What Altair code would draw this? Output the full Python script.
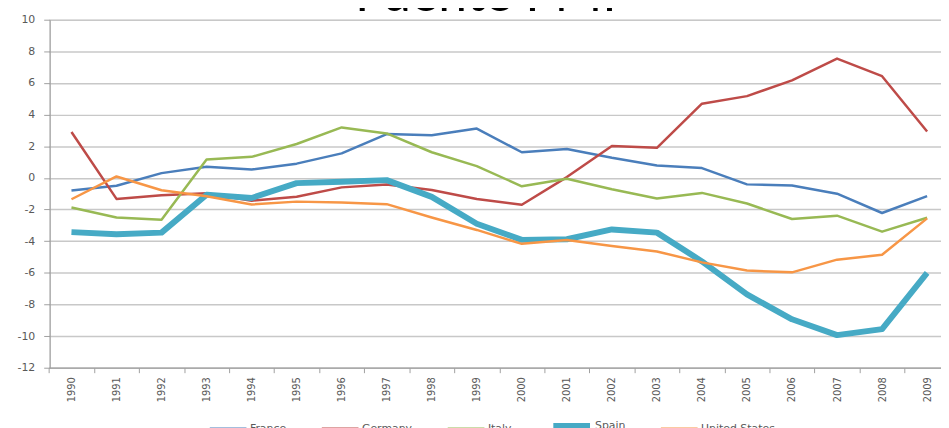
import altair as alt
import pandas as pd

years = [str(y) for y in range(1990, 2010)]
countries = ["France", "Germany", "Italy", "Spain", "United States"]

france = [-0.8, -0.5, 0.3, 0.7, 0.53, 0.9, 1.55, 2.77, 2.7, 3.12, 1.62, 1.83, 1.27, 0.78, 0.62, -0.41, -0.48, -1.0, -2.22, -1.15]
germany = [2.9, -1.33, -1.1, -0.97, -1.44, -1.19, -0.6, -0.42, -0.76, -1.33, -1.7, 0.05, 2.02, 1.9, 4.69, 5.17, 6.16, 7.54, 6.43, 2.93]
italy = [-1.87, -2.5, -2.65, 1.16, 1.33, 2.14, 3.19, 2.81, 1.62, 0.74, -0.53, -0.05, -0.72, -1.3, -0.95, -1.62, -2.6, -2.39, -3.4, -2.52]
spain = [-3.43, -3.56, -3.46, -1.06, -1.27, -0.33, -0.24, -0.14, -1.2, -2.9, -3.92, -3.88, -3.26, -3.46, -5.28, -7.37, -8.94, -9.94, -9.56, -6.0]
usa = [-1.35, 0.09, -0.78, -1.16, -1.68, -1.5, -1.56, -1.66, -2.5, -3.29, -4.17, -3.92, -4.3, -4.65, -5.34, -5.86, -5.97, -5.17, -4.86, -2.56]

colors = ["#4a7ebb", "#be4b48", "#98b954", "#46aac5", "#f79646"]
widths = [2.5, 2.5, 2.5, 6, 2.5]
title_text = "Fuente FMI"
y_ticks = list(range(-12, 11, 2))

series = [france, germany, italy, spain, usa]
rows = []
for c, vals in zip(countries, series):
    for y, v in zip(years, vals):
        rows.append({"year": y, "country": c, "value": v})
df = pd.DataFrame(rows)

font = "DejaVu Sans"
lab_color = "#595959"

lines = alt.Chart(df).mark_line(strokeJoin="round", strokeCap="butt").encode(
    x=alt.X("year:O", sort=years,
            scale=alt.Scale(type="band", paddingInner=0, paddingOuter=0, range=[-0.7, 907.7]),
            axis=alt.Axis(title=None, labelAngle=-90, labelAlign="right", labelBaseline="middle",
                          labelFontSize=10, labelColor=lab_color, labelFont=font,
                          tickBand="extent", tickSize=5, tickColor="#a0a0a0",
                          domainColor="#a0a0a0", domainWidth=1.2, labelPadding=4, grid=False)),
    y=alt.Y("value:Q",
            scale=alt.Scale(domain=[-12, 10], nice=False, zero=False),
            axis=alt.Axis(title=None, values=y_ticks, labelFontSize=11, labelColor=lab_color,
                          labelFont=font, tickSize=6, tickColor="#a0a0a0", domainColor="#a0a0a0",
                          labelExpr="replace(datum.label, '\u2212', '-')",
                          domainWidth=1.2, labelPadding=9, gridColor="#c8c8c8", gridWidth=1.5)),
    color=alt.Color("country:N", sort=countries,
                    scale=alt.Scale(domain=countries, range=colors),
                    legend=alt.Legend(
                        title=None, orient="none", direction="horizontal",
                        legendX=160, legendY=388, padding=0,
                        symbolType="stroke", symbolSize=1369, symbolStrokeWidth=3,
                        labelFontSize=11, labelColor=lab_color, labelFont=font,
                        labelOffset=2, columnPadding=30)),
    strokeWidth=alt.StrokeWidth("country:O", sort=countries,
                                scale=alt.Scale(type="ordinal", domain=countries, range=widths),
                                legend=None),
)

title = alt.Chart(pd.DataFrame({"t": [title_text]})).mark_text(
    font="Lato", fontSize=52, baseline="alphabetic", align="center", color="#000000"
).encode(x=alt.value(440), y=alt.value(-9), text="t:N")

chart = alt.layer(lines, title).properties(
    width=899, height=351,
    autosize=alt.AutoSizeParams(type="none"),
    padding={"left": 42, "top": 10, "right": 0, "bottom": 59},
).configure_view(stroke=None).configure(background="white")

chart.save("out.html", embed_options={"renderer": "svg", "actions": False})
